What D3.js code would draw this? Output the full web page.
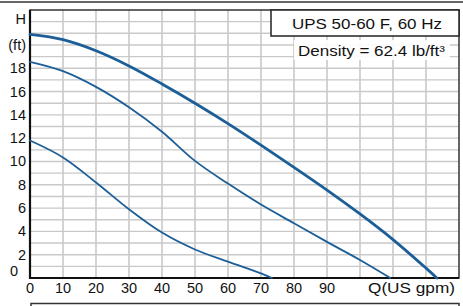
<!DOCTYPE html>
<html><head><meta charset="utf-8">
<script src="https://cdn.jsdelivr.net/npm/d3@7"></script>
<style>html,body{margin:0;padding:0;background:#fff;}svg{display:block;}</style>
</head><body>
<svg id="c" width="463" height="306"></svg>
<script>
// ---- data ----
const xTicks = [0,10,20,30,40,50,60,70,80,90];
const yTicks = [2,4,6,8,10,12,14,16,18];
const curveA_Q = [0,10,20,30,40,50,60,70,80,90,100,110,120,123.3];
const curveA_H = [20.9,20.45,19.5,18.2,16.65,15.0,13.25,11.4,9.5,7.55,5.5,3.3,0.85,0];
const curveB_Q = [0,10,20,30,40,50,60,70,80,90,100,109.2];
const curveB_H = [18.55,17.75,16.4,14.65,12.55,10.05,8.1,6.3,4.7,3.1,1.55,0];
const curveC_Q = [0,10,20,30,40,50,60,70,73.3];
const curveC_H = [11.8,10.35,8.2,5.9,3.9,2.45,1.4,0.4,0];
const titleText = "UPS 50-60 F, 60 Hz";
const densityText = "Density = 62.4 lb/ft³";
const xTitle = "Q(US gpm)";

// ---- drawing ----
const svg = d3.select("#c");
const font = "'Liberation Sans', Arial, Helvetica, sans-serif";
const x = d3.scaleLinear().domain([0,130]).range([30,459]);
const y = d3.scaleLinear().domain([0,23]).range([278,10]);
const blue = "#1c5f98";

// outer frame lines
svg.append("line").attr("x1",0).attr("x2",463).attr("y1",2).attr("y2",2).attr("stroke","#333").attr("stroke-width",1.5);
svg.append("path").attr("d",`M31,306V303.5H459V306`).attr("fill","none").attr("stroke","#333").attr("stroke-width",1.5);

// grid
const g = svg.append("g");
g.selectAll("line.v").data(d3.range(10,130,10)).join("line")
  .attr("x1",d=>x(d)).attr("x2",d=>x(d)).attr("y1",y(23)).attr("y2",y(0))
  .attr("stroke","#c9c9c9").attr("stroke-width",1.6);
g.selectAll("line.h").data(d3.range(1,23,1)).join("line")
  .attr("x1",x(0)).attr("x2",x(130)).attr("y1",d=>y(d)).attr("y2",d=>y(d))
  .attr("stroke","#c9c9c9").attr("stroke-width",1.4);

// plot border
svg.append("rect").attr("x",x(0)).attr("y",y(23)).attr("width",x(130)-x(0)).attr("height",y(0)-y(23))
  .attr("fill","none").attr("stroke","#333").attr("stroke-width",1.5);
svg.append("line").attr("x1",x(0)).attr("x2",x(0)).attr("y1",y(23)).attr("y2",y(0)+1).attr("stroke","#111").attr("stroke-width",2.2);
svg.append("line").attr("x1",x(0)-1).attr("x2",x(130)).attr("y1",y(0)).attr("y2",y(0)).attr("stroke","#111").attr("stroke-width",2.2);

// curves
const line = d3.line().x(d=>x(d[0])).y(d=>y(d[1])).curve(d3.curveCatmullRom.alpha(0.5));
const curves = [
  {q:curveA_Q,h:curveA_H,w:2.8},
  {q:curveB_Q,h:curveB_H,w:1.8},
  {q:curveC_Q,h:curveC_H,w:1.8}
];
curves.forEach(c=>{
  svg.append("path").datum(c.q.map((q,i)=>[q,c.h[i]]))
    .attr("d",line).attr("fill","none").attr("stroke",blue).attr("stroke-width",c.w)
    .attr("stroke-linecap","round");
});

// legend
svg.append("rect").attr("x",271).attr("y",y(23)).attr("width",x(130)-271).attr("height",26)
  .attr("fill","#fff").attr("stroke","#222").attr("stroke-width",1.5);
svg.append("text").attr("x",292).attr("y",29)
  .attr("font-family",font).attr("font-size",14).attr("fill","#111")
  .attr("textLength",150).attr("lengthAdjust","spacingAndGlyphs").text(titleText);
svg.append("rect").attr("x",294).attr("y",40).attr("width",156).attr("height",20).attr("fill","#fff").attr("opacity",0.9);
svg.append("text").attr("x",298).attr("y",56)
  .attr("font-family",font).attr("font-size",14).attr("fill","#111")
  .attr("textLength",147).attr("lengthAdjust","spacingAndGlyphs").text(densityText);

// tick labels
svg.selectAll("text.xt").data(xTicks).join("text")
  .attr("x",d=>x(d)).attr("y",293).attr("text-anchor","middle")
  .attr("font-family",font).attr("font-size",14.5).attr("fill","#111").text(d=>d);
svg.append("text").attr("x",368).attr("y",293)
  .attr("font-family",font).attr("font-size",14.5).attr("fill","#111")
  .attr("textLength",87).attr("lengthAdjust","spacingAndGlyphs").text(xTitle);
svg.selectAll("text.yt").data(yTicks).join("text")
  .attr("x",26).attr("y",d=>y(d)+5).attr("text-anchor","end")
  .attr("font-family",font).attr("font-size",14.5).attr("fill","#111").text(d=>d);
svg.append("text").attr("x",18).attr("y",y(0)-2).attr("text-anchor","end")
  .attr("font-family",font).attr("font-size",14.5).attr("fill","#111").text("0");
svg.append("text").attr("x",26).attr("y",24).attr("text-anchor","end")
  .attr("font-family",font).attr("font-size",14.5).attr("fill","#111").text("H");
svg.append("text").attr("x",26).attr("y",50).attr("text-anchor","end")
  .attr("font-family",font).attr("font-size",14.5).attr("fill","#111").text("(ft)");
</script>
</body></html>
